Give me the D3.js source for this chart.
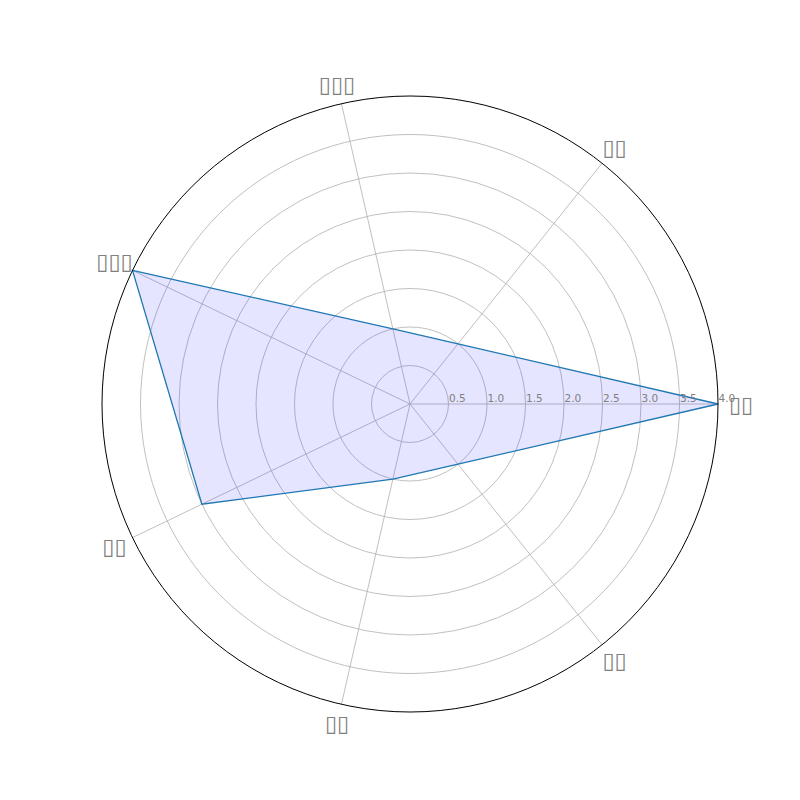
<!DOCTYPE html>
<html><head><meta charset="utf-8">
<script src="https://cdn.jsdelivr.net/npm/d3@7"></script>
<style>body{margin:0;background:#fff}</style>
</head><body>
<svg id="c" width="800" height="800"></svg>
<script>
const categories = ["▯▯", "▯▯", "▯▯▯", "▯▯▯", "▯▯", "▯▯", "▯▯"];
const values = [4, 1, 1, 4, 3, 1, 1];
const tickValues = [0.5, 1.0, 1.5, 2.0, 2.5, 3.0, 3.5, 4.0];

const svg = d3.select("#c");
const cx = 410, cy = 404, R = 308;
const r = d3.scaleLinear().domain([0, 4]).range([0, R]);
const n = categories.length;
const ang = d3.scaleLinear().domain([0, n]).range([0, 2 * Math.PI]);
const pt = (i, v) => [cx + r(v) * Math.cos(ang(i)), cy - r(v) * Math.sin(ang(i))];

const g = svg.append("g");
g.selectAll("circle.grid").data(tickValues.slice(0, -1)).enter().append("circle")
  .attr("cx", cx).attr("cy", cy).attr("r", d => r(d))
  .attr("fill", "none").attr("stroke", "#b0b0b0").attr("stroke-width", 0.8);
g.selectAll("line.spoke").data(d3.range(n)).enter().append("line")
  .attr("x1", cx).attr("y1", cy)
  .attr("x2", i => pt(i, 4)[0]).attr("y2", i => pt(i, 4)[1])
  .attr("stroke", "#b0b0b0").attr("stroke-width", 0.8);

const line = d3.line().curve(d3.curveLinearClosed);
g.append("path").attr("d", line(values.map((v, i) => pt(i, v))))
  .attr("fill", "rgba(0,0,255,0.1)").attr("stroke", "#1f77b4").attr("stroke-width", 1.3);

g.append("circle").attr("cx", cx).attr("cy", cy).attr("r", R)
  .attr("fill", "none").attr("stroke", "#000").attr("stroke-width", 1);

g.selectAll("text.tick").data(tickValues).enter().append("text")
  .attr("x", d => cx + r(d) + 0.5).attr("y", cy - 2)
  .attr("font-family", "DejaVu Sans").attr("font-size", 10.5)
  .attr("fill", "#808080").text(d => d.toFixed(1));

g.selectAll("text.cat").data(categories).enter().append("text")
  .attr("x", (d, i) => cx + (R + 20) * Math.cos(ang(i)) + (i === 0 ? 3 : 0))
  .attr("y", (d, i) => cy - (R + 20) * Math.sin(ang(i)))
  .attr("text-anchor", "middle").attr("dominant-baseline", "central")
  .attr("font-family", "DejaVu Sans").attr("font-size", 22)
  .attr("fill", "#808080").text(d => d);
</script>
</body></html>
